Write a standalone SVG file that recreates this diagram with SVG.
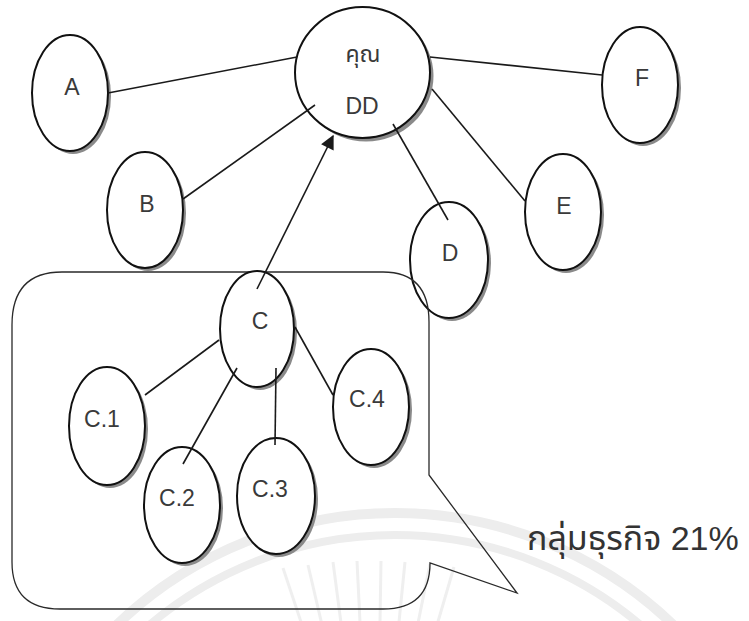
<svg xmlns="http://www.w3.org/2000/svg" width="749" height="621" viewBox="0 0 749 621">
  <style>
    .shadow { fill: #8a8a8a; stroke: none; }
    .body { fill: #ffffff; stroke: #111111; stroke-width: 2; }
    .label { font-family: "Liberation Sans", Arial, "Noto Sans Thai", sans-serif; font-size: 23px; fill: #3a3a3a; text-anchor: middle; }
    .edge { fill: none; stroke: #1a1a1a; stroke-width: 1.6; }
    .callout { fill: none; stroke: #2a2a2a; stroke-width: 1.3; }
    .wm { fill: none; stroke: #ededed; }
    .caption { font-family: "Liberation Sans", Arial, "Noto Sans Thai", "Noto Sans", sans-serif; font-size: 34px; fill: #333333; }
  </style>
  <defs>
    <marker id="arrowhead" viewBox="0 0 10 10" refX="9" refY="5" markerWidth="17" markerHeight="14" markerUnits="userSpaceOnUse" orient="auto">
      <path d="M0,0 L10,5 L0,10 Z" fill="#1a1a1a"/>
    </marker>
  </defs>

  <rect x="0" y="0" width="749" height="621" fill="#ffffff"/>

  <!-- faint background seal: concentric bands and rays -->
  <g id="seal">
    <circle class="wm" cx="395" cy="915" r="402" stroke-width="10"/>
    <circle class="wm" cx="395" cy="915" r="380" stroke-width="8"/>
    <g stroke="#efefef" stroke-width="3">
      <line x1="303" y1="628" x2="283" y2="568"/>
      <line x1="322" y1="625" x2="308" y2="565"/>
      <line x1="341" y1="623" x2="333" y2="562"/>
      <line x1="360" y1="622" x2="357" y2="561"/>
      <line x1="380" y1="622" x2="381" y2="561"/>
      <line x1="399" y1="622" x2="405" y2="562"/>
      <line x1="418" y1="623" x2="430" y2="564"/>
      <line x1="437" y1="625" x2="454" y2="567"/>
    </g>
  </g>

  <!-- node D sits under the callout outline -->
  <g id="node-D">
    <ellipse class="shadow" cx="452" cy="263" rx="39" ry="58"/>
    <ellipse class="body" cx="449" cy="260" rx="39" ry="58"/>
    <text class="label" x="450" y="261">D</text>
  </g>

  <!-- speech-bubble callout around the C group -->
  <path id="callout" class="callout" d="M62,272 L383,272 Q429,272 429,322 L429,475 L517,593 L430,563 Q430,609 383,609 L60,609 Q12,609 12,562 L12,325 Q12,272 62,272 Z"/>

  <g id="node-main">
    <ellipse class="shadow" cx="366" cy="76" rx="67.5" ry="65.5"/>
    <ellipse class="body" cx="362.5" cy="72.5" rx="67.5" ry="65.5"/>
    <text class="label" x="363" y="62">คุณ</text>
    <text class="label" x="362" y="114">DD</text>
  </g>

  <g id="node-A">
    <ellipse class="shadow" cx="73" cy="96" rx="38" ry="58"/>
    <ellipse class="body" cx="70" cy="93" rx="38" ry="58"/>
    <text class="label" x="72" y="95">A</text>
  </g>

  <g id="node-B">
    <ellipse class="shadow" cx="148" cy="213" rx="38" ry="58"/>
    <ellipse class="body" cx="145" cy="210" rx="38" ry="58"/>
    <text class="label" x="147" y="212">B</text>
  </g>

  <g id="node-E">
    <ellipse class="shadow" cx="566" cy="215" rx="38" ry="58"/>
    <ellipse class="body" cx="563" cy="212" rx="38" ry="58"/>
    <text class="label" x="564" y="214">E</text>
  </g>

  <g id="node-F">
    <ellipse class="shadow" cx="643" cy="88" rx="38" ry="58"/>
    <ellipse class="body" cx="640" cy="85" rx="38" ry="58"/>
    <text class="label" x="642" y="86">F</text>
  </g>

  <g id="node-C">
    <ellipse class="shadow" cx="260" cy="332" rx="37" ry="58"/>
    <ellipse class="body" cx="257" cy="329" rx="37" ry="58"/>
    <text class="label" x="260" y="329">C</text>
  </g>

  <g id="node-C1">
    <ellipse class="shadow" cx="110" cy="429" rx="38" ry="59"/>
    <ellipse class="body" cx="107" cy="426" rx="38" ry="59"/>
    <text class="label" x="102" y="427">C.1</text>
  </g>

  <g id="node-C2">
    <ellipse class="shadow" cx="185" cy="508" rx="38" ry="58"/>
    <ellipse class="body" cx="182" cy="505" rx="38" ry="58"/>
    <text class="label" x="177" y="506">C.2</text>
  </g>

  <g id="node-C3">
    <ellipse class="shadow" cx="279" cy="499" rx="39" ry="58"/>
    <ellipse class="body" cx="276" cy="496" rx="39" ry="58"/>
    <text class="label" x="270" y="497">C.3</text>
  </g>

  <g id="node-C4">
    <ellipse class="shadow" cx="374" cy="410" rx="38" ry="58"/>
    <ellipse class="body" cx="371" cy="407" rx="38" ry="58"/>
    <text class="label" x="367" y="407">C.4</text>
  </g>

  <g id="connectors">
    <line class="edge" x1="108" y1="93" x2="297" y2="57"/>
    <line class="edge" x1="183" y1="199" x2="315" y2="105"/>
    <line class="edge" x1="430" y1="57" x2="602" y2="75"/>
    <line class="edge" x1="432" y1="89" x2="525" y2="201"/>
    <line class="edge" x1="393" y1="124" x2="448" y2="220"/>
    <line class="edge" x1="257" y1="289" x2="333" y2="136" marker-end="url(#arrowhead)"/>
    <path class="edge" d="M219,340 Q180,369 145,395"/>
    <line class="edge" x1="237" y1="368" x2="183" y2="464"/>
    <line class="edge" x1="276" y1="368" x2="275" y2="445"/>
    <line class="edge" x1="295" y1="327" x2="333" y2="395"/>
  </g>

  <text id="caption" class="caption" x="527" y="550">กลุ่มธุรกิจ 21%</text>
</svg>
